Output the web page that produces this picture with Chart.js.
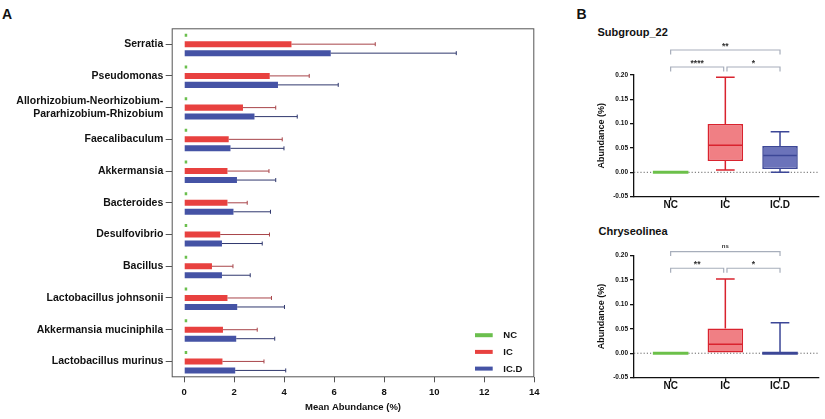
<!DOCTYPE html>
<html><head><meta charset="utf-8">
<script src="https://cdn.jsdelivr.net/npm/chart.js@4.4.0/dist/chart.umd.min.js"></script>
<style>
html,body{margin:0;padding:0;background:#fff;width:825px;height:419px;overflow:hidden;font-family:"Liberation Sans",Arial,sans-serif;}
.box{position:absolute;}
.lbl{position:absolute;font-weight:bold;color:#111;white-space:nowrap;line-height:1;}
</style></head><body>
<div class="lbl" style="left:2px;top:6.5px;font-size:14px;">A</div>
<div class="lbl" style="left:576.5px;top:6.5px;font-size:14px;">B</div>
<div class="lbl" style="left:597.5px;top:27px;font-size:11px;">Subgroup_22</div>
<div class="lbl" style="left:598.5px;top:226px;font-size:11px;">Chryseolinea</div>
<div class="box" style="left:0;top:0;width:560px;height:419px;"><canvas id="cA"></canvas></div>
<div class="box" style="left:560px;top:0;width:265px;height:218px;"><canvas id="cB1"></canvas></div>
<div class="box" style="left:560px;top:218px;width:265px;height:201px;"><canvas id="cB2"></canvas></div>
<script>
// ---------- Panel A data ----------
const categories = ['Serratia','Pseudomonas',['Allorhizobium-Neorhizobium-','Pararhizobium-Rhizobium'],'Faecalibaculum','Akkermansia','Bacteroides','Desulfovibrio','Bacillus','Lactobacillus johnsonii','Akkermansia muciniphila','Lactobacillus murinus'];
const seriesNames = ['NC','IC','IC.D'];
const ncMean  = [0.12,0.12,0.12,0.12,0.12,0.12,0.12,0.12,0.12,0.12,0.12];
const icMean  = [4.29,3.42,2.35,1.78,1.73,1.73,1.44,1.11,1.73,1.55,1.53];
const icSD    = [3.35,1.58,1.31,2.14,1.66,0.79,1.97,0.84,1.76,1.37,1.66];
const icdMean = [5.86,3.75,2.81,1.85,2.11,1.97,1.51,1.51,2.12,2.08,2.04];
const icdSD   = [5.02,2.41,1.71,2.14,1.55,1.48,1.61,1.13,1.89,1.54,2.02];
const xTicksA = [0,2,4,6,8,10,12,14];

// ---------- Panel B data ----------
const boxGroups = ['NC','IC','IC.D'];
const sub22Min = [0, 0.0047, 0.0];
const sub22Q1  = [0, 0.0232, 0.0068];
const sub22Med = [0, 0.0555, 0.0345];
const sub22Q3  = [0, 0.0994, 0.054];
const sub22Max = [0, 0.1955, 0.0835];
const sub22SigLabel = ['**','****','*'];
const sub22SigFrom  = [0,0,1];
const sub22SigTo    = [2,1,2];
const sub22SigLevel = [0.2516,0.2167,0.2167];

const chrMin = [0, 0, 0];
const chrQ1  = [0, 0, 0];
const chrMed = [0, 0.0184, 0];
const chrQ3  = [0, 0.0506, 0];
const chrMax = [0, 0.1516, 0.062];
const chrSigLabel = ['ns','**','*'];
const chrSigFrom  = [0,0,1];
const chrSigTo    = [2,1,2];
const chrSigLevel = [0.2076,0.1736,0.1736];

const yTicksB = [-0.05,0,0.05,0.10,0.15,0.20];

const FONT = '"Liberation Sans", Arial, sans-serif';
Chart.defaults.font.family = FONT;
Chart.defaults.color = '#111';
Chart.defaults.animation = false;

// ---------- Panel A plugins ----------
const framePlugin = {id:'frame', afterDraw(chart){
  const {ctx, chartArea:a} = chart;
  ctx.save(); ctx.strokeStyle='#555'; ctx.lineWidth=1;
  ctx.strokeRect(a.left+0.5, a.top+0.5, a.right-a.left-1, a.bottom-a.top-1);
  ctx.restore();
}};
const errorBarPlugin = {id:'errorBars', afterDatasetsDraw(chart){
  const ctx = chart.ctx, xs = chart.scales.x;
  chart.data.datasets.forEach((ds, di)=>{
    if(!ds.sd) return;
    const meta = chart.getDatasetMeta(di);
    ctx.save(); ctx.strokeStyle = ds.errColor; ctx.lineWidth = 1;
    meta.data.forEach((bar,i)=>{
      const x0 = xs.getPixelForValue(ds.data[i]);
      const x1 = xs.getPixelForValue(ds.data[i]+ds.sd[i]);
      const y = bar.y;
      ctx.beginPath(); ctx.moveTo(x0,y); ctx.lineTo(x1,y);
      ctx.moveTo(x1,y-2); ctx.lineTo(x1,y+2); ctx.stroke();
    });
    ctx.restore();
  });
}};
const legendPlugin = {id:'legendBox', afterDraw(chart){
  const {ctx, chartArea:a} = chart;
  const offs = [-42.1,-25.4,-8.7];
  ctx.save();
  ctx.font = 'bold 9.5px ' + FONT; ctx.textBaseline='middle'; ctx.textAlign='left';
  chart.data.datasets.forEach((ds,i)=>{
    const yc = a.bottom + offs[i];
    ctx.fillStyle = ds.backgroundColor;
    ctx.fillRect(a.right-59.3, yc-2, 17.7, 4);
    ctx.fillStyle = '#111';
    ctx.fillText(ds.label, a.right-31, yc+0.5);
  });
  ctx.restore();
}};

new Chart(document.getElementById('cA'), {
  type:'bar',
  data:{labels:categories, datasets:[
    {label:seriesNames[0], data:ncMean, backgroundColor:'#6bbf4e', maxBarThickness:3, categoryPercentage:0.85, barPercentage:0.67},
    {label:seriesNames[1], data:icMean, sd:icSD, errColor:'#a8454a', backgroundColor:'#e8413f', categoryPercentage:0.85, barPercentage:0.67},
    {label:seriesNames[2], data:icdMean, sd:icdSD, errColor:'#30386e', backgroundColor:'#4553a5', categoryPercentage:0.85, barPercentage:0.67}
  ]},
  options:{
    indexAxis:'y', responsive:true, maintainAspectRatio:false, animation:false,
    layout:{padding:{left:0,right:25.7,top:28.3,bottom:0}},
    plugins:{legend:{display:false}, tooltip:{enabled:false}},
    scales:{
      x:{type:'linear', min:-0.5, max:14,
        afterBuildTicks: ax=>{ ax.ticks = xTicksA.map(v=>({value:v})); },
        ticks:{font:{size:9.5, weight:'bold'}, color:'#111', padding:4.7},
        grid:{drawOnChartArea:false, drawTicks:true, tickLength:5, color:'#555'},
        border:{display:false},
        title:{display:true, text:'Mean Abundance (%)', font:{size:9.5, weight:'bold'}, color:'#111', padding:{top:0,bottom:5.6}},
        afterFit: s=>{ s.height = 41.7; }
      },
      y:{
        ticks:{font:{size:10.5, weight:'bold', lineHeight:1.18}, color:'#111', padding:2.4, autoSkip:false},
        grid:{offset:false, drawOnChartArea:false, drawTicks:true, tickLength:6, color:'#555'},
        border:{display:false},
        afterFit: s=>{ s.width = 171.7; }
      }
    }
  },
  plugins:[framePlugin, errorBarPlugin, legendPlugin]
});

// ---------- Panel B ----------
const boxFill = ['#6cc04a','#f07f84','#6b73ba'];
const boxLine = ['#6cc04a','#d9232e','#3c4797'];

function boxPlugin(mins, meds, maxs, q1s, q3s, sigLabel, sigFrom, sigTo, sigLevel){
  return {
    id:'boxExtras',
    beforeDatasetsDraw(chart){
      const {ctx, chartArea:a, scales:{y}} = chart;
      const y0 = y.getPixelForValue(0);
      ctx.save(); ctx.strokeStyle='#666'; ctx.lineWidth=1; ctx.setLineDash([1.2,2]);
      ctx.beginPath(); ctx.moveTo(a.left, y0); ctx.lineTo(a.right, y0); ctx.stroke();
      ctx.restore();
    },
    afterDatasetsDraw(chart){
      const {ctx, scales:{x,y}} = chart;
      const meta = chart.getDatasetMeta(0);
      ctx.save();
      meta.data.forEach((bar,i)=>{
        const cx = bar.x, w = bar.width;
        const col = boxLine[i];
        ctx.strokeStyle = col;
        const pQ1 = y.getPixelForValue(q1s[i]), pQ3 = y.getPixelForValue(q3s[i]);
        const pMin = y.getPixelForValue(mins[i]), pMax = y.getPixelForValue(maxs[i]);
        const pMed = y.getPixelForValue(meds[i]);
        const cap = w*0.525/2;
        ctx.lineWidth = 1.5;
        if (maxs[i] > q3s[i]) {
          ctx.beginPath(); ctx.moveTo(cx,pQ3); ctx.lineTo(cx,pMax);
          ctx.moveTo(cx-cap,pMax); ctx.lineTo(cx+cap,pMax); ctx.stroke();
        }
        if (mins[i] < q1s[i]) {
          ctx.beginPath(); ctx.moveTo(cx,pQ1); ctx.lineTo(cx,pMin);
          ctx.moveTo(cx-cap,pMin); ctx.lineTo(cx+cap,pMin); ctx.stroke();
        }
        if (q3s[i] === q1s[i]) {
          ctx.lineWidth = 3;
          ctx.beginPath(); ctx.moveTo(cx-w/2,pMed); ctx.lineTo(cx+w/2,pMed); ctx.stroke();
        } else {
          ctx.lineWidth = 1.5;
          ctx.beginPath(); ctx.moveTo(cx-w/2+1,pMed); ctx.lineTo(cx+w/2-1,pMed); ctx.stroke();
        }
      });
      // significance brackets
      ctx.strokeStyle = '#a7aebb'; ctx.lineWidth = 1.2;
      sigLabel.forEach((lab,k)=>{
        const f = sigFrom[k] + (sigFrom[k] > 0 ? 0.03 : 0);
        const t = sigTo[k] - (sigTo[k] - sigFrom[k] === 1 && sigTo[k] === 1 ? 0.03 : 0);
        const x1 = x.getPixelForValue(f), x2 = x.getPixelForValue(t);
        const ly = y.getPixelForValue(sigLevel[k]);
        ctx.beginPath(); ctx.moveTo(x1, ly+4.5); ctx.lineTo(x1, ly); ctx.lineTo(x2, ly); ctx.lineTo(x2, ly+4.5); ctx.stroke();
        ctx.fillStyle = '#333';
        ctx.font = (lab === 'ns' ? 'bold 6px ' : 'bold 8.5px ') + FONT;
        ctx.textAlign = 'center'; ctx.textBaseline = 'alphabetic';
        const m = ctx.measureText(lab);
        const mid = (m.actualBoundingBoxAscent - m.actualBoundingBoxDescent)/2;
        ctx.fillText(lab, (x1+x2)/2, ly - 5 + mid);
      });
      ctx.restore();
    }
  };
}

function makeBox(id, q1s, q3s, meds, mins, maxs, sigLabel, sigFrom, sigTo, sigLevel, padTop, xAxisH){
  new Chart(document.getElementById(id), {
    type:'bar',
    data:{datasets:[{
      data: boxGroups.map((g,i)=>({x:i, y:[q1s[i], q3s[i]]})),
      backgroundColor: boxFill, borderColor: boxLine, borderWidth:1.6, borderSkipped:false,
      categoryPercentage:1, barPercentage:0.65
    }]},
    options:{
      responsive:true, maintainAspectRatio:false, animation:false,
      layout:{padding:{left:0,right:6.7,top:padTop,bottom:0}},
      plugins:{legend:{display:false}, tooltip:{enabled:false}},
      scales:{
        x:{type:'linear', min:-0.67, max:2.7, offset:false,
          afterBuildTicks: ax=>{ ax.ticks = boxGroups.map((g,i)=>({value:i})); },
          ticks:{callback:(v)=>boxGroups[v], font:{size:10, weight:'bold', lineHeight:1}, color:'#111', padding:0},
          grid:{offset:false, drawOnChartArea:false, drawTicks:true, tickLength:4, color:'#111', lineWidth:1.3},
          border:{color:'#111', width:1.3},
          afterFit: s=>{ s.height = xAxisH; }
        },
        y:{min:-0.05, max:0.2,
          afterBuildTicks: ax=>{ ax.ticks = yTicksB.map(v=>({value:v})); },
          ticks:{callback:(v)=>Number(v).toFixed(2), font:{size:6.5, weight:'bold'}, color:'#111', padding:2},
          grid:{drawOnChartArea:false, drawTicks:true, tickLength:4, color:'#111', lineWidth:1.3},
          border:{color:'#111', width:1.3},
          title:{display:true, text:'Abundance (%)', font:{size:9, weight:'bold'}, color:'#111', padding:{top:36.5,bottom:0}},
          afterFit: s=>{ s.width = 74; }
        }
      }
    },
    plugins:[boxPlugin(mins, meds, maxs, q1s, q3s, sigLabel, sigFrom, sigTo, sigLevel)]
  });
}

makeBox('cB1', sub22Q1, sub22Q3, sub22Med, sub22Min, sub22Max, sub22SigLabel, sub22SigFrom, sub22SigTo, sub22SigLevel, 75.1, 21.4);
makeBox('cB2', chrQ1, chrQ3, chrMed, chrMin, chrMax, chrSigLabel, chrSigFrom, chrSigTo, chrSigLevel, 37.3, 41.3);
</script>
</body></html>
